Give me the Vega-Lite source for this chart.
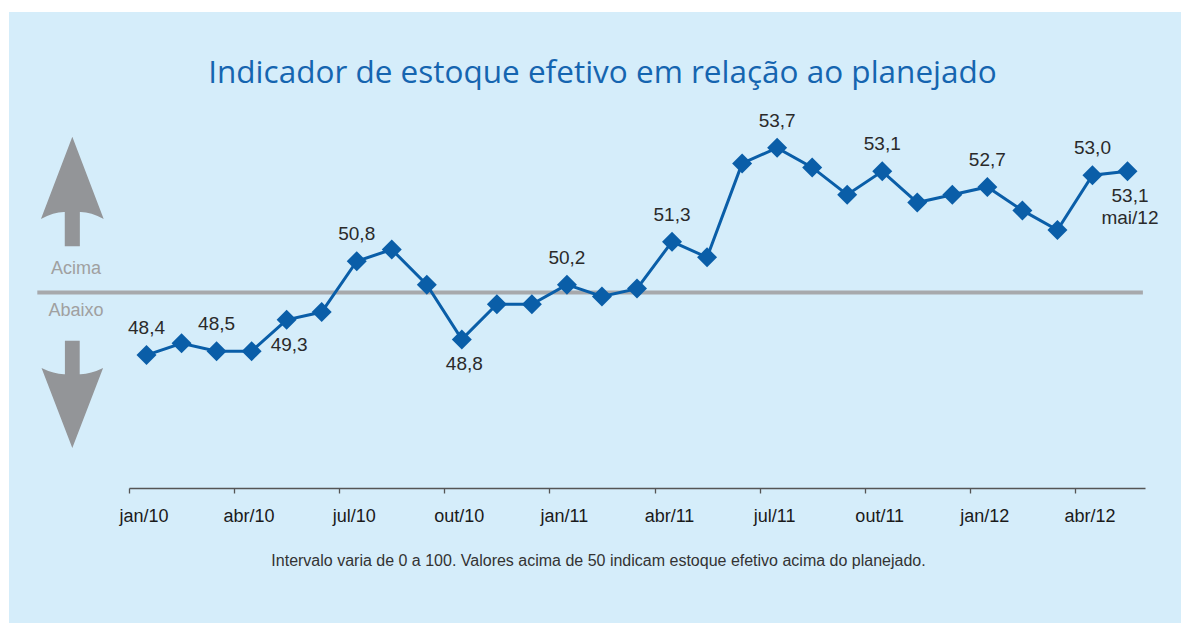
{
  "$schema": "https://vega.github.io/schema/vega-lite/v6.json",
  "autosize": {"type": "none"},
  "width": 1016,
  "height": 391,
  "padding": {"left": 129, "top": 97, "right": 36, "bottom": 135},
  "background": "#ffffff",
  "title": {
    "text": "Indicador de estoque efetivo em relação ao planejado",
    "frame": "group",
    "anchor": "middle",
    "dx": -34.5,
    "offset": -103,
    "baseline": "alphabetic",
    "font": "Open Sans",
    "fontSize": 31.5,
    "fontWeight": "normal",
    "color": "#1565b0"
  },
  "datasets": {
    "serie": [
      {"i": 0, "mes": "jan/10", "v": 48.4},
      {"i": 1, "mes": "fev/10", "v": 48.7},
      {"i": 2, "mes": "mar/10", "v": 48.5},
      {"i": 3, "mes": "abr/10", "v": 48.5},
      {"i": 4, "mes": "mai/10", "v": 49.3},
      {"i": 5, "mes": "jun/10", "v": 49.5},
      {"i": 6, "mes": "jul/10", "v": 50.8},
      {"i": 7, "mes": "ago/10", "v": 51.1},
      {"i": 8, "mes": "set/10", "v": 50.2},
      {"i": 9, "mes": "out/10", "v": 48.8},
      {"i": 10, "mes": "nov/10", "v": 49.7},
      {"i": 11, "mes": "dez/10", "v": 49.7},
      {"i": 12, "mes": "jan/11", "v": 50.2},
      {"i": 13, "mes": "fev/11", "v": 49.9},
      {"i": 14, "mes": "mar/11", "v": 50.1},
      {"i": 15, "mes": "abr/11", "v": 51.3},
      {"i": 16, "mes": "mai/11", "v": 50.9},
      {"i": 17, "mes": "jun/11", "v": 53.3},
      {"i": 18, "mes": "jul/11", "v": 53.7},
      {"i": 19, "mes": "ago/11", "v": 53.2},
      {"i": 20, "mes": "set/11", "v": 52.5},
      {"i": 21, "mes": "out/11", "v": 53.1},
      {"i": 22, "mes": "nov/11", "v": 52.3},
      {"i": 23, "mes": "dez/11", "v": 52.5},
      {"i": 24, "mes": "jan/12", "v": 52.7},
      {"i": 25, "mes": "fev/12", "v": 52.1},
      {"i": 26, "mes": "mar/12", "v": 51.6},
      {"i": 27, "mes": "abr/12", "v": 53.0},
      {"i": 28, "mes": "mai/12", "v": 53.1}
    ],
    "one": [{}]
  },
  "layer": [
    {
      "data": {"name": "one"},
      "mark": {"type": "rect", "fill": "#d5edfa", "strokeWidth": 0},
      "encoding": {
        "x": {"datum": -3.925, "type": "quantitative", "scale": {"domain": [-0.5, 28.5], "nice": false, "zero": false}},
        "x2": {"datum": 30},
        "y": {"datum": 57.174, "type": "quantitative", "axis": null, "scale": {"domain": [45, 55], "nice": false, "zero": false}},
        "y2": {"datum": 41}
      }
    },
    {
      "data": {"name": "one"},
      "mark": {"type": "rule", "stroke": "#a7a9ac", "strokeWidth": 4},
      "encoding": {
        "x": {"datum": -3.117, "type": "quantitative", "scale": {"domain": [-0.5, 28.5], "nice": false, "zero": false}},
        "x2": {"datum": 28.44},
        "y": {"datum": 50, "type": "quantitative", "axis": null, "scale": {"domain": [45, 55], "nice": false, "zero": false}}
      }
    },
    {
      "data": {"name": "one"},
      "mark": {"type": "point", "filled": true, "fill": "#939598", "opacity": 1, "strokeWidth": 0, "size": 11950,
        "shape": "M0,-1L0.574,0.505Q0.33,0.37 0.138,0.376L0.138,1L-0.138,1L-0.138,0.376Q-0.33,0.37 -0.574,0.505Z"},
      "encoding": {
        "x": {"datum": -2.118, "type": "quantitative", "scale": {"domain": [-0.5, 28.5], "nice": false, "zero": false}},
        "y": {"datum": 52.583, "type": "quantitative", "axis": null, "scale": {"domain": [45, 55], "nice": false, "zero": false}}
      }
    },
    {
      "data": {"name": "one"},
      "mark": {"type": "point", "filled": true, "fill": "#939598", "opacity": 1, "strokeWidth": 0, "size": 11500,
        "shape": "M0,1L0.574,-0.49Q0.33,-0.37 0.138,-0.376L0.138,-1L-0.138,-1L-0.138,-0.376Q-0.33,-0.37 -0.574,-0.49Z"},
      "encoding": {
        "x": {"datum": -2.118, "type": "quantitative", "scale": {"domain": [-0.5, 28.5], "nice": false, "zero": false}},
        "y": {"datum": 47.394, "type": "quantitative", "axis": null, "scale": {"domain": [45, 55], "nice": false, "zero": false}}
      }
    },
    {
      "data": {"values": [{"t": "Acima", "y": 50.473}, {"t": "Abaixo", "y": 49.399}]},
      "mark": {"type": "text", "font": "Liberation Sans", "fontSize": 18, "color": "#a0a0a0", "align": "center", "baseline": "alphabetic"},
      "encoding": {
        "x": {"datum": -2.013, "type": "quantitative", "scale": {"domain": [-0.5, 28.5], "nice": false, "zero": false}},
        "y": {"field": "y", "type": "quantitative", "axis": null, "scale": {"domain": [45, 55], "nice": false, "zero": false}},
        "text": {"field": "t"}
      }
    },
    {
      "data": {"name": "serie"},
      "mark": {"type": "line", "stroke": "#0a5ea8", "strokeWidth": 3},
      "encoding": {
        "x": {"field": "i", "type": "quantitative",
          "scale": {"domain": [-0.5, 28.5], "nice": false, "zero": false},
          "axis": {
            "zindex": 1,
            "values": [-0.5, 2.5, 5.5, 8.5, 11.5, 14.5, 17.5, 20.5, 23.5, 26.5],
            "labelExpr": "['jan/10','abr/10','jul/10','out/10','jan/11','abr/11','jul/11','out/11','jan/12','abr/12'][round((datum.value+0.5)/3)]",
            "labelOffset": 14.5,
            "labelFont": "Liberation Sans",
            "labelFontSize": 18,
            "labelColor": "#1a1a1a",
            "labelBaseline": "alphabetic",
            "labelPadding": 28.7,
            "labelFlush": false,
            "labelOverlap": false,
            "tickSize": 5,
            "tickColor": "#555555",
            "tickWidth": 1.3,
            "domainColor": "#555555",
            "domainWidth": 1.3,
            "grid": false,
            "title": "Intervalo varia de 0 a 100. Valores acima de 50 indicam estoque efetivo acima do planejado.",
            "titleFont": "Liberation Sans",
            "titleFontSize": 16,
            "titleFontWeight": "normal",
            "titleColor": "#333333",
            "titleX": 469,
            "titleY": 77,
            "titleAlign": "center",
            "titleBaseline": "alphabetic"
          }
        },
        "y": {"field": "v", "type": "quantitative", "axis": null, "scale": {"domain": [45, 55], "nice": false, "zero": false}}
      }
    },
    {
      "data": {"name": "serie"},
      "mark": {"type": "point", "shape": "diamond", "filled": true, "fill": "#0a5ea8", "opacity": 1, "strokeWidth": 0, "size": 400},
      "encoding": {
        "x": {"field": "i", "type": "quantitative", "scale": {"domain": [-0.5, 28.5], "nice": false, "zero": false}},
        "y": {"field": "v", "type": "quantitative", "axis": null, "scale": {"domain": [45, 55], "nice": false, "zero": false}}
      }
    },
    {
      "data": {"name": "serie"},
      "transform": [
        {"filter": {"field": "mes", "oneOf": ["jan/10", "mar/10", "jul/10", "jan/11", "abr/11", "jul/11", "out/11", "jan/12", "abr/12"]}},
        {"calculate": "replace(format(datum.v, '.1f'), '.', ',')", "as": "lab"}
      ],
      "mark": {"type": "text", "font": "Liberation Sans", "fontSize": 19, "color": "#2a2a2a", "align": "center", "baseline": "alphabetic", "dy": -21},
      "encoding": {
        "x": {"field": "i", "type": "quantitative", "scale": {"domain": [-0.5, 28.5], "nice": false, "zero": false}},
        "y": {"field": "v", "type": "quantitative", "axis": null, "scale": {"domain": [45, 55], "nice": false, "zero": false}},
        "text": {"field": "lab"}
      }
    },
    {
      "data": {"name": "serie"},
      "transform": [
        {"filter": {"field": "mes", "oneOf": ["mai/10", "out/10", "mai/12"]}},
        {"calculate": "replace(format(datum.v, '.1f'), '.', ',') + (datum.mes == 'mai/12' ? '\\n' + datum.mes : '')", "as": "lab"}
      ],
      "mark": {"type": "text", "font": "Liberation Sans", "fontSize": 19, "color": "#2a2a2a", "align": "center", "baseline": "top", "dy": 16, "dx": 2.5, "lineBreak": "\n", "lineHeight": 22},
      "encoding": {
        "x": {"field": "i", "type": "quantitative", "scale": {"domain": [-0.5, 28.5], "nice": false, "zero": false}},
        "y": {"field": "v", "type": "quantitative", "axis": null, "scale": {"domain": [45, 55], "nice": false, "zero": false}},
        "text": {"field": "lab"}
      }
    }
  ],
  "config": {"view": {"stroke": null}}
}
